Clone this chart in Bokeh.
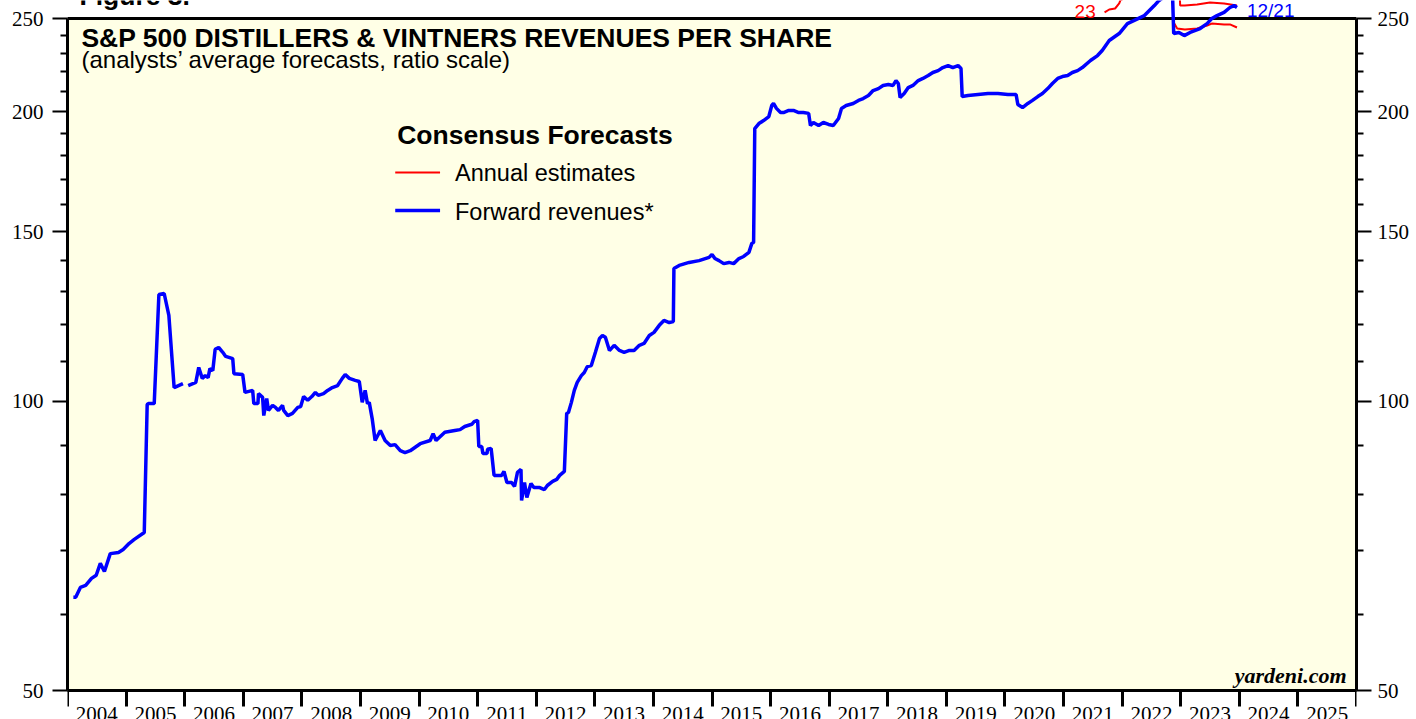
import math
import numpy as np
from bokeh.plotting import figure
from bokeh.models import (Range1d, FixedTicker, LogAxis, Label, BoxAnnotation,
                          CustomJSTickFormatter, BasicTickFormatter)
from bokeh.embed import file_html
from bokeh.resources import INLINE

nan = float("nan")

# ---------------- data ----------------
fwd_year = [
    2004.10, 2004.14, 2004.22, 2004.31, 2004.41, 2004.49, 2004.56, 2004.63, 2004.73, 2004.87,
    2004.95, 2005.05, 2005.14, 2005.31, 2005.36, 2005.38, 2005.48, 2005.56, 2005.65, 2005.73,
    2005.82, 2005.97, 2006.01, 2006.06, 2006.19, 2006.24, 2006.30, 2006.35, 2006.40, 2006.43,
    2006.48, 2006.52, 2006.58, 2006.65, 2006.70, 2006.82, 2006.84, 2006.99, 2007.03, 2007.16,
    2007.18, 2007.25, 2007.26, 2007.33, 2007.35, 2007.40, 2007.43, 2007.50, 2007.55, 2007.60,
    2007.67, 2007.69, 2007.76, 2007.84, 2007.93, 2007.98, 2008.03, 2008.10, 2008.17, 2008.23,
    2008.28, 2008.37, 2008.44, 2008.52, 2008.61, 2008.69, 2008.74, 2008.81, 2008.91, 2008.98,
    2009.03, 2009.08, 2009.12, 2009.15, 2009.20, 2009.25, 2009.34, 2009.42, 2009.51, 2009.59,
    2009.68, 2009.76, 2009.85, 2010.02, 2010.19, 2010.24, 2010.29, 2010.44, 2010.61, 2010.70,
    2010.78, 2010.90, 2010.94, 2011.00, 2011.02, 2011.07, 2011.09, 2011.16, 2011.17, 2011.23,
    2011.24, 2011.28, 2011.41, 2011.45, 2011.50, 2011.58, 2011.63, 2011.68, 2011.74, 2011.75,
    2011.80, 2011.84, 2011.91, 2011.96, 2012.06, 2012.14, 2012.19, 2012.28, 2012.35, 2012.40,
    2012.48, 2012.52, 2012.55, 2012.60, 2012.65, 2012.70, 2012.77, 2012.82, 2012.87, 2012.94,
    2013.01, 2013.08, 2013.13, 2013.18, 2013.25, 2013.28, 2013.33, 2013.42, 2013.50, 2013.59,
    2013.67, 2013.76, 2013.84, 2013.93, 2014.01, 2014.10, 2014.18, 2014.27, 2014.34, 2014.35,
    2014.44, 2014.61, 2014.78, 2014.95, 2015.00, 2015.05, 2015.12, 2015.20, 2015.29, 2015.37,
    2015.46, 2015.54, 2015.63, 2015.68, 2015.71, 2015.73, 2015.80, 2015.88, 2015.97, 2016.02,
    2016.05, 2016.10, 2016.17, 2016.22, 2016.31, 2016.39, 2016.48, 2016.56, 2016.65, 2016.68,
    2016.73, 2016.82, 2016.90, 2016.99, 2017.07, 2017.16, 2017.21, 2017.29, 2017.41, 2017.50,
    2017.58, 2017.67, 2017.75, 2017.84, 2017.92, 2018.01, 2018.09, 2018.14, 2018.18, 2018.21,
    2018.28, 2018.35, 2018.43, 2018.52, 2018.60, 2018.69, 2018.77, 2018.86, 2018.94, 2019.03,
    2019.11, 2019.20, 2019.25, 2019.27, 2019.37, 2019.54, 2019.71, 2019.88, 2020.05, 2020.19,
    2020.22, 2020.30, 2020.39, 2020.47, 2020.56, 2020.64, 2020.73, 2020.81, 2020.90, 2020.98,
    2021.07, 2021.15, 2021.24, 2021.32, 2021.46, 2021.58, 2021.66, 2021.78, 2021.95, 2022.09,
    2022.38, 2022.55, 2022.63, 2022.75, 2022.86, 2022.88, 2022.97, 2023.06, 2023.16, 2023.33,
    2023.45, 2023.53, 2023.62, 2023.74, 2023.84, 2023.91, 2023.96,
]
fwd_value = [
    62.5, 62.5, 64.0, 64.3, 65.4, 65.9, 67.8, 66.5, 69.4, 69.6,
    70.1, 71.1, 71.8, 73.0, 99.2, 99.4, 99.4, 129.1, 129.4, 122.8,
    103.3, 104.3, nan, 103.8, 104.6, 108.4, 105.6, 106.3, 105.8, 108.1,
    107.6, 113.2, 113.7, 112.4, 111.3, 110.7, 106.8, 106.6, 102.1, 102.6,
    99.4, 99.4, 101.8, 100.9, 96.6, 100.6, 97.8, 99.0, 98.5, 97.8,
    99.0, 97.8, 96.6, 97.1, 98.5, 98.7, 101.1, 100.2, 101.1, 102.1,
    101.4, 101.8, 102.6, 103.3, 103.8, 105.6, 106.6, 105.6, 105.1, 104.8,
    99.7, 102.6, 99.4, 99.7, 95.9, 91.0, 93.2, 91.0, 89.9, 90.1,
    88.8, 88.4, 88.8, 90.3, 91.0, 92.5, 91.0, 92.8, 93.2, 93.4,
    94.1, 94.6, 95.2, 95.5, 89.7, 89.7, 88.2, 88.2, 89.1, 89.3,
    88.2, 83.7, 83.7, 84.5, 82.3, 82.3, 81.5, 84.3, 84.9, 78.8,
    82.3, 79.4, 82.1, 81.3, 81.3, 80.9, 81.7, 82.5, 82.9, 83.7,
    84.5, 97.1, 97.3, 99.7, 102.6, 104.6, 106.3, 107.1, 108.6, 108.9,
    112.4, 116.2, 117.0, 116.5, 112.9, 113.4, 114.3, 112.9, 112.4, 112.9,
    112.9, 114.3, 114.8, 117.0, 117.9, 119.9, 121.3, 120.7, 121.0, 137.4,
    138.4, 139.4, 140.0, 141.1, 142.1, 140.7, 140.0, 139.0, 139.4, 139.0,
    140.7, 141.4, 142.8, 145.9, 146.2, 192.1, 194.4, 195.8, 197.7, 203.0,
    204.0, 201.6, 199.6, 199.6, 200.6, 200.6, 199.6, 199.6, 199.2, 193.5,
    194.9, 193.5, 194.9, 194.0, 193.5, 196.8, 201.6, 203.0, 204.0, 205.5,
    206.4, 207.9, 210.4, 211.4, 213.0, 213.5, 213.0, 215.5, 214.0, 206.9,
    208.9, 211.9, 213.0, 215.5, 216.6, 218.1, 219.7, 220.7, 222.3, 223.4,
    222.3, 223.4, 221.8, 207.4, 207.9, 208.4, 208.9, 208.9, 208.4, 208.4,
    203.5, 202.0, 204.0, 205.5, 207.4, 208.9, 211.4, 214.0, 216.6, 217.6,
    218.1, 219.7, 220.7, 222.3, 226.1, 228.8, 231.6, 237.2, 241.2, 247.0,
    251.8, 257.9, 261.1, 264.0, 265.0, 241.2, 241.8, 240.0, 241.8, 244.1,
    247.0, 250.0, 251.8, 253.7, 256.7, 257.9, 256.7,
]

est22_year = [2022.89, 2022.94, 2023.07, 2023.28, 2023.45, 2023.53, 2023.74, 2023.84, 2023.96]
est22_value = [247.0, 244.1, 243.5, 244.1, 245.9, 247.0, 246.5, 246.5, 244.7]

est23_year = [2021.70, 2021.78, 2021.88, 2021.95, 2021.97, 2022.20, 2022.50, 2022.80,
              2022.98, 2022.99, 2023.07, 2023.28, 2023.50, 2023.74, 2023.96]
est23_value = [253.7, 255.5, 256.1, 259.2, 261.1, 266.0, 270.0, 272.0,
               271.0, 257.9, 257.9, 258.6, 259.8, 259.2, 257.9]

year_labels = [str(y) for y in range(2004, 2026)]
y_major_ticks = [50, 100, 150, 200, 250]
y_minor_ticks = [60, 70, 80, 90, 110, 120, 130, 140, 160, 170, 180, 190, 210, 220, 230, 240]

# ---------------- layout ----------------
W, H = 1404, 719
LEFT, RIGHT = 58, 52
X0, X1 = 2004, 2026
PX_PER_YEAR = (W - LEFT - RIGHT) / (X1 - X0)
PX_PER_LN = 417.5          # ratio-scale pixels per natural-log unit
Y50_PX = 690               # page pixel row of the value 50


def xpos(px):
    """page pixel column -> year"""
    return X0 + (px - 8 - LEFT) / PX_PER_YEAR


def ypos(py):
    """page pixel row -> value (ratio scale)"""
    return 50 * math.exp((Y50_PX - py) / PX_PER_LN)


BG = "#ffffe6"
BLUE = "#0000ff"
RED = "#ff0000"
SANS = "Liberation Sans"
SERIF = "Liberation Serif"

p = figure(width=W, height=H,
           x_range=Range1d(X0, X1), y_range=Range1d(ypos(H), ypos(0)),
           y_axis_type="log", toolbar_location=None, output_backend="svg",
           min_border_left=LEFT, min_border_right=RIGHT,
           min_border_top=0, min_border_bottom=0,
           background_fill_color="white", border_fill_color="white",
           outline_line_color=None,
           styles={"position": "absolute", "left": "8px", "top": "0px"})
p.grid.visible = False

# chart box
p.add_layout(BoxAnnotation(left=X0, right=X1, bottom=50, top=250, level="underlay",
                           fill_color=BG, fill_alpha=1.0,
                           line_color="black", line_width=3, line_alpha=1.0))


def style_y(ax, standoff):
    ax.ticker = FixedTicker(ticks=y_major_ticks, minor_ticks=y_minor_ticks)
    ax.formatter = BasicTickFormatter()
    ax.bounds = (50, 250)
    ax.axis_line_width = 3
    ax.axis_line_color = "black"
    ax.major_tick_out = 15
    ax.major_tick_in = 0
    ax.major_tick_line_width = 2
    ax.minor_tick_out = 7
    ax.minor_tick_in = 0
    ax.minor_tick_line_width = 2
    ax.major_label_standoff = standoff
    ax.major_label_text_font = SERIF
    ax.major_label_text_font_size = "21px"
    ax.major_label_text_color = "black"


style_y(p.yaxis[0], 9)
ry = LogAxis()
style_y(ry, 6)
p.add_layout(ry, "right")

xa = p.xaxis[0]
xa.fixed_location = 50
xa.ticker = FixedTicker(ticks=[y + 0.5 for y in range(2004, 2026)],
                        minor_ticks=list(range(2004, 2027)))
xa.formatter = CustomJSTickFormatter(args=dict(labels=year_labels),
                                     code="const i = Math.floor(tick) - 2004; return labels[i] || '';")
xa.major_tick_line_color = None
xa.major_tick_out = 0
xa.major_tick_in = 0
xa.minor_tick_out = 16
xa.minor_tick_in = 0
xa.minor_tick_line_width = 3
xa.axis_line_width = 3
xa.axis_line_color = "black"
xa.major_label_standoff = 0
xa.major_label_text_font = SERIF
xa.major_label_text_font_size = "21px"
xa.major_label_text_color = "black"

# series
p.line(est22_year, est22_value, color=RED, line_width=2)
p.line(est23_year, est23_value, color=RED, line_width=2)
p.line(np.array(fwd_year), np.array(fwd_value), color=BLUE, line_width=3.5)

# legend samples
p.line([xpos(395), xpos(440)], [ypos(172), ypos(172)], color=RED, line_width=2)
p.line([xpos(395), xpos(440)], [ypos(210), ypos(210)], color=BLUE, line_width=3.5)


def label(text, px, py, size, color="black", font=SANS, style="normal", align="left"):
    # py is the wanted baseline row; compensate for the renderer's baseline offset
    s = float(size.replace("px", ""))
    p.add_layout(Label(x=xpos(px), y=ypos(py - 0.37 * s), text=text, text_font=font,
                       text_font_size=size, text_font_style=style, text_color=color,
                       text_align=align, text_baseline="alphabetic"))


label("Figure 3.", 78, 5, "26.5px", style="bold")
label("S&P 500 DISTILLERS & VINTNERS REVENUES PER SHARE", 80, 47, "26.5px", style="bold")
label("(analysts\u2019 average forecasts, ratio scale)", 80, 68, "24px")
label("Consensus Forecasts", 397, 144, "26.5px", style="bold")
label("Annual estimates", 455, 181, "23.5px")
label("Forward revenues*", 455, 220, "23.5px")
label("23", 1077, 18, "19px", color=RED)
label("12/21", 1250, 17, "19px", color=BLUE)
label("yardeni.com", 1350, 683, "22px", font=SERIF, style="bold italic", align="right")

open("out.html", "w").write(file_html(p, INLINE))
